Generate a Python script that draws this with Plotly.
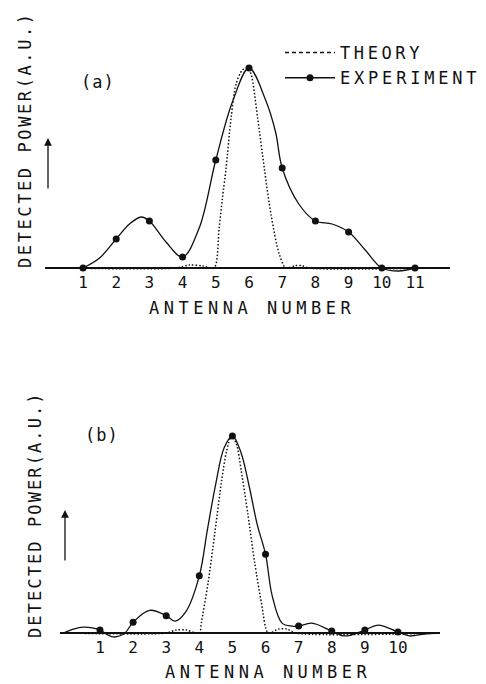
import plotly.graph_objects as go

# ---- measured data -------------------------------------------------------
# (a) eleven-element array
ant_a = [1, 2, 3, 4, 5, 6, 7, 8, 9, 10, 11]
exp_a = [0.0, 0.145, 0.235, 0.055, 0.54, 1.0, 0.5, 0.235, 0.18, 0.0, 0.0]

# smooth experimental curve (a), drawn through the measured points
curve_a_x = [1, 1.5, 2, 2.4, 2.75, 3, 3.5, 4, 4.5, 5, 5.5, 6, 6.5, 6.8, 7,
             7.5, 8, 8.5, 9, 9.5, 10, 10.5, 11]
curve_a_y = [0.0, 0.05, 0.145, 0.22, 0.255, 0.235, 0.13, 0.055, 0.2, 0.54, 0.83,
             1.0, 0.84, 0.68, 0.5, 0.32, 0.235, 0.22, 0.18, 0.09, 0.0, -0.015, 0.0]

# theoretical pattern (a)
theory_a_x = [0.5, 3.8, 4.2, 4.6, 4.95, 5.1, 5.2, 5.31, 5.46, 5.61, 5.8, 5.95,
              6.06, 6.26, 6.46, 6.66, 6.91, 7.11, 7.4, 7.6, 7.8, 11.5]
theory_a_y = [0.0, 0.0, 0.015, 0.01, 0.0, 0.2, 0.35, 0.5, 0.75, 0.92, 0.99, 1.0,
              0.97, 0.75, 0.5, 0.27, 0.07, 0.0, 0.012, 0.012, 0.0, 0.0]

# (b) ten-element array
ant_b = [1, 2, 3, 4, 5, 6, 7, 8, 9, 10]
exp_b = [0.015, 0.055, 0.088, 0.29, 1.0, 0.40, 0.035, 0.01, 0.015, 0.005]

curve_b_x = [-0.1, 0.2, 0.5, 0.8, 1, 1.4, 1.75, 2, 2.5, 3, 3.27, 3.6, 4, 4.25,
             4.5, 4.75, 5, 5.25, 5.5, 5.75, 6, 6.2, 6.5, 6.8, 7, 7.4, 8, 8.4,
             9, 9.4, 10, 10.35, 10.8, 11.3]
curve_b_y = [0.0, 0.02, 0.03, 0.025, 0.015, -0.02, 0.0, 0.055, 0.115, 0.088,
             0.06, 0.11, 0.29, 0.53, 0.76, 0.94, 1.0, 0.92, 0.75, 0.55, 0.40,
             0.19, 0.05, 0.035, 0.035, 0.05, 0.01, -0.015, 0.015, 0.04, 0.005,
             -0.015, -0.005, 0.0]

theory_b_x = [-0.1, 3.0, 3.3, 3.6, 3.9, 4.01, 4.06, 4.27, 4.47, 4.67, 4.82,
              4.97, 5.12, 5.27, 5.47, 5.67, 5.88, 6.08, 6.4, 6.65, 6.9, 11.3]
theory_b_y = [0.0, 0.0, 0.015, 0.015, 0.0, 0.0, 0.05, 0.26, 0.51, 0.77, 0.92,
              1.0, 0.96, 0.82, 0.6, 0.36, 0.15, 0.0, 0.02, 0.02, 0.0, 0.0]

tick_a = [str(v) for v in ant_a]
tick_b = [str(v) for v in ant_b]

# ---- styling -------------------------------------------------------------
INK = "#111111"
FONT = "DejaVu Sans Mono"
W, H = 486, 684


def spaced(text, px):
    return f'<span style="letter-spacing:{px}px">{text}</span>'


fig = go.Figure()

panels = [
    ("x", "y", curve_a_x, curve_a_y, ant_a, exp_a, theory_a_x, theory_a_y),
    ("x2", "y2", curve_b_x, curve_b_y, ant_b, exp_b, theory_b_x, theory_b_y),
]
for xa, ya, cx, cy, px, py, tx, ty in panels:
    fig.add_trace(go.Scatter(
        x=tx, y=ty, xaxis=xa, yaxis=ya, mode="lines", showlegend=False,
        line=dict(color=INK, width=1.5, dash="1.5px,2px", shape="spline", smoothing=0.8),
        hoverinfo="skip"))
    fig.add_trace(go.Scatter(
        x=cx, y=cy, xaxis=xa, yaxis=ya, mode="lines", showlegend=False,
        line=dict(color=INK, width=1.3, shape="spline", smoothing=1.0),
        hoverinfo="skip"))
    fig.add_trace(go.Scatter(
        x=px, y=py, xaxis=xa, yaxis=ya, mode="markers", showlegend=False,
        marker=dict(color=INK, size=7), cliponaxis=False))

# legend entries
fig.add_trace(go.Scatter(
    x=[None], y=[None], mode="lines", name=spaced("THEORY", 3.6),
    line=dict(color=INK, width=1.5, dash="4px,3px")))
fig.add_trace(go.Scatter(
    x=[None], y=[None], mode="lines+markers", name=spaced("EXPERIMENT", 3.8),
    line=dict(color=INK, width=1.5), marker=dict(color=INK, size=7)))

# axis geometry (pixel positions of plot areas)
def xdom(l, r):
    return [l / W, r / W]


def ydom(top, bottom):
    return [1 - bottom / H, 1 - top / H]


axis_common = dict(showgrid=False, showline=False, ticks="", fixedrange=True)
fig.update_layout(
    width=W, height=H,
    margin=dict(l=0, r=0, t=0, b=0),
    paper_bgcolor="white", plot_bgcolor="white",
    font=dict(family=FONT, color=INK, size=16),
    xaxis=dict(domain=xdom(45, 450), range=[-0.1446, 12.054], anchor="y",
               tickmode="array", tickvals=ant_a, ticktext=tick_a,
               tickfont=dict(family=FONT, size=16, color=INK),
               zeroline=False, ticklabelstandoff=-5, **axis_common),
    yaxis=dict(domain=ydom(10, 276), range=[-0.04, 1.29], anchor="x",
               showticklabels=False, zeroline=True, zerolinecolor=INK,
               zerolinewidth=1.5, **axis_common),
    xaxis2=dict(domain=xdom(60, 440), range=[-0.208, 11.27], anchor="y2",
                tickmode="array", tickvals=ant_b, ticktext=tick_b,
                tickfont=dict(family=FONT, size=16, color=INK),
                zeroline=False, ticklabelstandoff=-5, **axis_common),
    yaxis2=dict(domain=ydom(390, 641), range=[-0.0406, 1.2335], anchor="x2",
                showticklabels=False, zeroline=True, zerolinecolor=INK,
                zerolinewidth=1.5, **axis_common),
    legend=dict(x=280 / W, y=1 - 35 / H, xanchor="left", yanchor="top",
                bgcolor="rgba(0,0,0,0)", borderwidth=0, itemwidth=50,
                font=dict(family=FONT, size=17, color=INK)),
)


def label(text, cx, cy, size=17, angle=0):
    fig.add_annotation(text=text, xref="paper", yref="paper",
                       x=cx / W, y=1 - cy / H, xanchor="center", yanchor="middle",
                       showarrow=False, textangle=angle,
                       font=dict(family=FONT, size=size, color=INK))


label(spaced("(a)", 1), 98, 82)
label(spaced("(b)", 1), 102, 435)
label(spaced("ANTENNA NUMBER", 4.5), 252, 308)
label(spaced("ANTENNA NUMBER", 4.5), 268, 672)
label(spaced("DETECTED POWER(A.U.)", 2.6), 25, 140, angle=-90)
label(spaced("DETECTED POWER(A.U.)", 2.1), 35, 515, angle=-90)

# "increasing" arrows beside the vertical titles
for ax_x, head_y, tail_len in [(48, 138, 52), (65, 510, 52)]:
    fig.add_annotation(text="", xref="paper", yref="paper",
                       x=ax_x / W, y=1 - head_y / H, ax=0, ay=tail_len,
                       showarrow=True, arrowhead=2, arrowsize=1.2,
                       arrowwidth=1.3, arrowcolor=INK)

fig.write_html("out.html")
